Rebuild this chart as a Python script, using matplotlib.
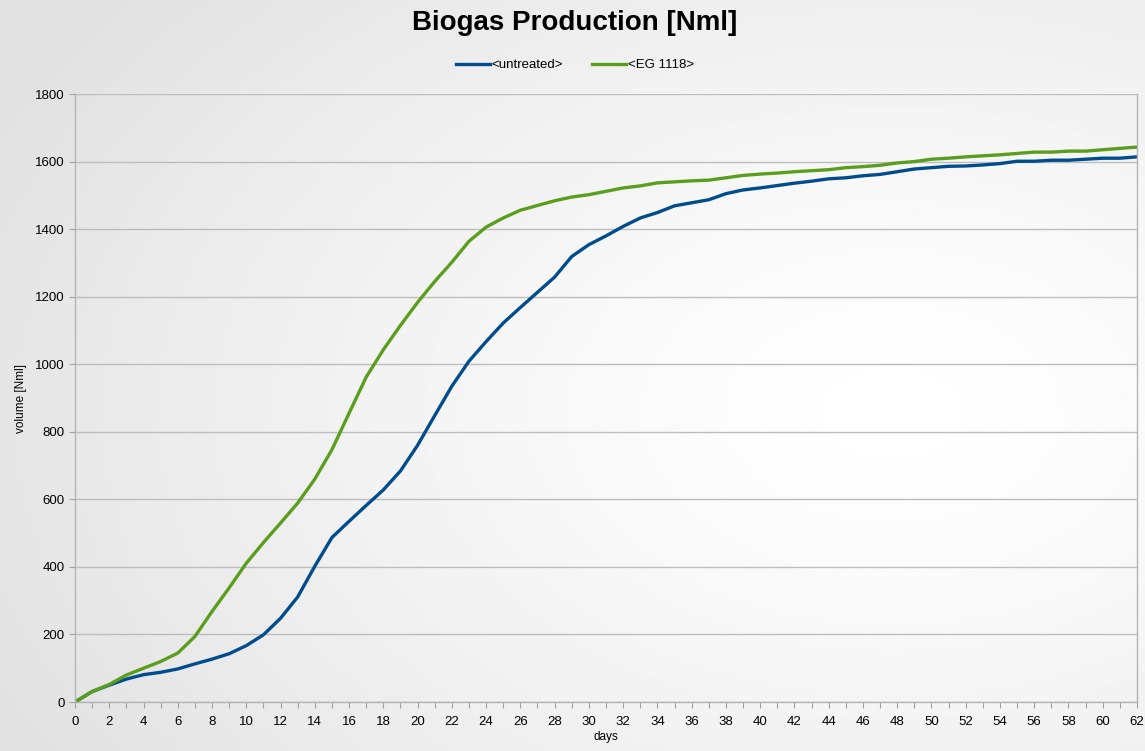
import numpy as np
import matplotlib
matplotlib.use("Agg")
import matplotlib.pyplot as plt

plt.rcParams["font.family"] = ["Liberation Sans", "DejaVu Sans"]

# data
days = list(range(0, 63))
untreated = [0, 31, 50, 68, 81, 88, 98, 113, 127, 143, 167, 199, 248, 311, 402,
             487, 535, 582, 628, 684, 760, 848, 935, 1009, 1067, 1122, 1168, 1213,
             1258, 1319, 1354, 1380, 1408, 1433, 1449, 1469, 1478, 1487, 1505, 1516,
             1522, 1529, 1536, 1542, 1549, 1552, 1558, 1562, 1570, 1578, 1582, 1586,
             1587, 1590, 1594, 1601, 1601, 1604, 1604, 1607, 1610, 1610, 1614]
eg1118 = [0, 31, 52, 80, 100, 120, 145, 194, 268, 338, 411, 472, 530, 589, 660,
          747, 855, 962, 1043, 1115, 1183, 1245, 1302, 1364, 1406, 1433, 1456, 1470,
          1484, 1495, 1502, 1512, 1522, 1528, 1537, 1540, 1543, 1545, 1552, 1559,
          1563, 1566, 1570, 1573, 1576, 1582, 1585, 1589, 1596, 1600, 1607, 1610,
          1614, 1617, 1620, 1624, 1628, 1628, 1631, 1631, 1635, 1639, 1643]
series_names = ["<untreated>", "<EG 1118>"]
series_colors = ["#004C8C", "#5B9E1E"]

fig = plt.figure(figsize=(11.45, 7.51), dpi=100)

# soft grey-to-white background gradient
bg = fig.add_axes([0, 0, 1, 1], zorder=-10)
gx, gy = np.meshgrid(np.linspace(0, 1, 400), np.linspace(0, 1, 300))
r = np.sqrt(((gx - 0.78) / 0.9) ** 2 + ((gy - 0.55) / 0.9) ** 2)
shade = 1.0 - 0.12 * np.clip(r, 0, 1) ** 1.3
bg.imshow(shade, cmap="gray", vmin=0, vmax=1, aspect="auto", extent=[0, 1, 0, 1])
bg.axis("off")

ax = fig.add_axes([0.0655, 0.0652, 0.9275, 0.8096])
ax.patch.set_alpha(0)

for vals, name, col in zip([untreated, eg1118], series_names, series_colors):
    ax.plot(days, vals, color=col, lw=2.4, label=name, solid_joinstyle="round")

ax.set_xlim(0, 62)
ax.set_ylim(0, 1800)
ax.set_xticks(range(0, 63, 2))
ax.set_xticks(range(0, 63), minor=True)
ax.set_yticks(range(0, 1801, 200))
ax.tick_params(axis="both", labelsize=9.5, colors="#a0a0a0", labelcolor="black",
               length=4, width=0.8)
ax.tick_params(axis="x", which="minor", length=4, width=0.8, colors="#a0a0a0")
ax.tick_params(axis="x", pad=6)
ax.grid(axis="y", color="#bdbdbd", lw=1)
ax.set_axisbelow(True)
for side in ["left", "bottom", "right"]:
    ax.spines[side].set_color("#b4b4b4")
    ax.spines[side].set_linewidth(1)
ax.spines["top"].set_visible(False)

ax.set_xlabel("days", fontsize=8.5, labelpad=2)
ax.set_ylabel("volume [Nml]", fontsize=8.5, labelpad=6)

fig.text(0.502, 0.97, "Biogas Production [Nml]", ha="center", va="center",
         fontsize=20, fontweight="bold")
fig.legend(loc="center", bbox_to_anchor=(0.502, 0.913), ncol=2, frameon=False,
           fontsize=9.5, handlelength=2.6, handletextpad=0.1, columnspacing=2.2)

fig.savefig("out.png", dpi=100)
